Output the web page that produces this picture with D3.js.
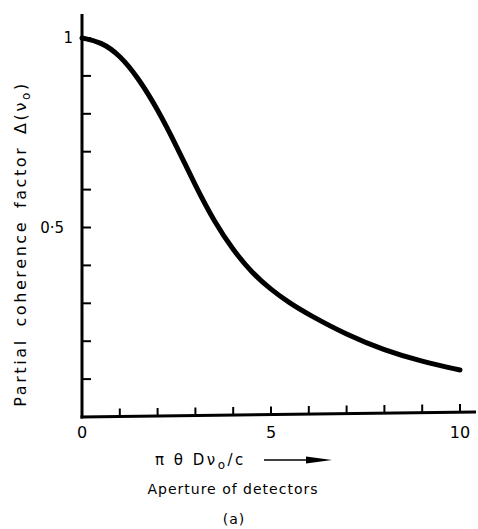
<!DOCTYPE html>
<html><head><meta charset="utf-8">
<script src="https://cdn.jsdelivr.net/npm/d3@7/dist/d3.min.js"></script>
<style>body{margin:0;background:#fff}svg{display:block}text{font-family:"DejaVu Sans",sans-serif;fill:#000}</style>
</head><body>
<script>
const xValues = [0, 0.5, 1, 1.5, 2, 2.5, 3, 3.5, 4, 4.5, 5, 5.5, 6, 7, 8, 9, 10];
const coherence = [1.0, 0.99, 0.955, 0.893, 0.812, 0.715, 0.61, 0.515, 0.44, 0.38, 0.336, 0.30, 0.27, 0.217, 0.176, 0.146, 0.124];
const xTickLabels = [0, 5, 10];
const yTickLabels = [{v: 1, t: "1"}, {v: 0.5, t: "0·5"}];

const W = 478, H = 529;
const svg = d3.select("body").append("svg").attr("width", W).attr("height", H);
const x = d3.scaleLinear().domain([0, 10]).range([82, 460]);
const y = d3.scaleLinear().domain([0, 1]).range([417, 38]);

// axes lines
svg.append("line").attr("x1", x(0)).attr("x2", x(0)).attr("y1", 14).attr("y2", y(0) + 1.5)
  .attr("stroke", "#000").attr("stroke-width", 3);
svg.append("line").attr("x1", x(0) - 1.5).attr("x2", 476).attr("y1", y(0)).attr("y2", y(0) - 5)
  .attr("stroke", "#000").attr("stroke-width", 3);

// ticks
const xt = d3.range(1, 11);
svg.selectAll(".xt").data(xt).join("line")
  .attr("x1", d => x(d)).attr("x2", d => x(d))
  .attr("y1", d => y(0) - 0.5 * d).attr("y2", d => y(0) - 0.5 * d - 8)
  .attr("stroke", "#000").attr("stroke-width", 2);
const yt = d3.range(1, 11).map(d => d / 10);
svg.selectAll(".yt").data(yt).join("line")
  .attr("x1", x(0)).attr("x2", x(0) + 9)
  .attr("y1", d => y(d)).attr("y2", d => y(d))
  .attr("stroke", "#000").attr("stroke-width", 2);

// tick labels
svg.selectAll(".xl").data(xTickLabels).join("text")
  .attr("x", d => x(d)).attr("y", 438).attr("text-anchor", "middle")
  .attr("font-size", 16).text(d => d);
svg.selectAll(".yl").data(yTickLabels).join("text")
  .attr("x", d => d.v === 1 ? 73 : 64).attr("y", d => y(d.v) + 5).attr("text-anchor", "end")
  .attr("font-size", 15).text(d => d.t);

// curve
const line = d3.line().x((d, i) => x(xValues[i])).y(d => y(d)).curve(d3.curveBasis);
svg.append("path").datum(coherence).attr("d", line)
  .attr("fill", "none").attr("stroke", "#000").attr("stroke-width", 5).attr("stroke-linecap", "round");

// y label
const yl = svg.append("text").attr("transform", "translate(26,244) rotate(-90)")
  .attr("text-anchor", "middle").attr("font-size", 16).attr("letter-spacing", 2.6)
  .attr("word-spacing", 4);
yl.append("tspan").text("Partial coherence factor  Δ(ν");
yl.append("tspan").attr("font-size", 12).attr("dy", 4).text("o");
yl.append("tspan").attr("dy", -4).text(")");

// x label
const xl = svg.append("text").attr("x", 155).attr("y", 465).attr("font-size", 15).attr("letter-spacing", 2.5);
xl.append("tspan").text("π θ Dν");
xl.append("tspan").attr("font-size", 12).attr("dy", 4).text("o");
xl.append("tspan").attr("dy", -4).text("/c");
svg.append("line").attr("x1", 264).attr("x2", 322).attr("y1", 460).attr("y2", 460)
  .attr("stroke", "#000").attr("stroke-width", 1.5);
svg.append("path").attr("d", "M306,456.5 L332,460 L306,463.5 Z").attr("fill", "#000");

svg.append("text").attr("x", 233).attr("y", 494).attr("text-anchor", "middle")
  .attr("font-size", 14).attr("letter-spacing", 1).text("Aperture of detectors");
svg.append("text").attr("x", 234).attr("y", 524).attr("text-anchor", "middle")
  .attr("font-size", 14).attr("letter-spacing", 1).text("(a)");
</script>
</body></html>
